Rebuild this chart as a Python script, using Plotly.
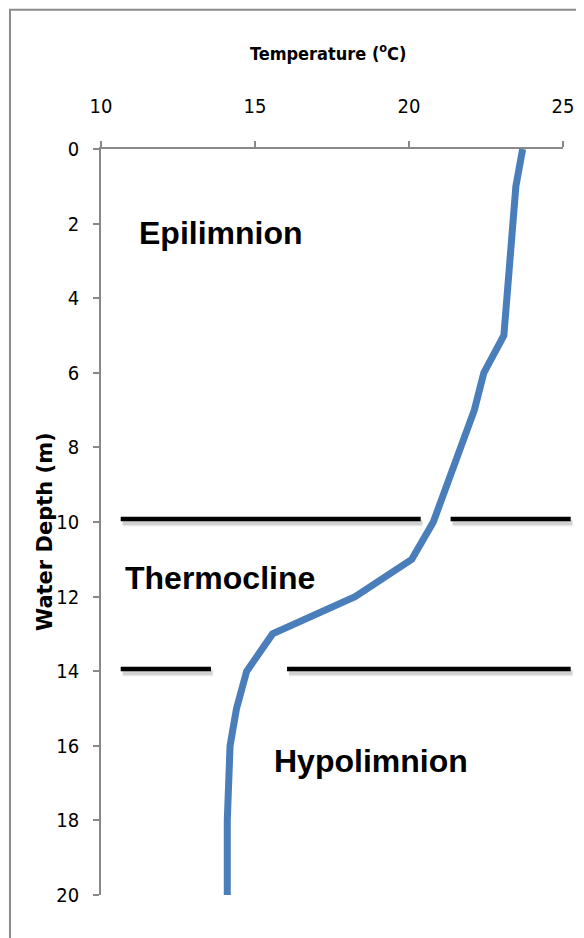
import plotly.graph_objects as go

# ---- data ----
depth_m = [0, 1, 5, 6, 7, 8, 9, 10, 11, 12, 13, 14, 15, 16, 18, 20]
temperature_c = [23.69, 23.47, 23.08, 22.43, 22.12, 21.66, 21.22, 20.79, 20.09,
                 18.25, 15.57, 14.73, 14.40, 14.19, 14.10, 14.10]

x_ticks = [10, 15, 20, 25]
y_ticks = [0, 2, 4, 6, 8, 10, 12, 14, 16, 18, 20]

# layer boundary lines (depth, list of [t_start, t_end] segments in deg C)
boundary_depths = [9.92, 13.94]
boundary_segments = [
    [[10.64, 20.38], [21.35, 25.25]],
    [[10.64, 13.57], [16.04, 25.25]],
]

layer_names = ["Epilimnion", "Thermocline", "Hypolimnion"]
layer_label_x = [13.9, 13.86, 18.78]
layer_label_y = [2.25, 11.5, 16.4]

X_MIN, X_MAX = 10, 25
Y_MIN, Y_MAX = 0, 20

TICK_FONT = "Liberation Sans Narrow, Arial Narrow, DejaVu Sans Condensed, sans-serif"


def to_paper_x(t):
    return (t - X_MIN) / (X_MAX - X_MIN)


fig = go.Figure()
fig.add_trace(go.Scatter(
    x=temperature_c, y=depth_m, mode="lines",
    line=dict(color="#4A7EBB", width=7),
    showlegend=False, hoverinfo="skip",
))

shapes = []
# outer chart border
shapes.append(dict(type="rect", xref="paper", yref="paper",
                   x0=-0.197, x1=1.10, y0=-0.10, y1=1.1866,
                   line=dict(color="#8C8C8C", width=2), fillcolor="rgba(0,0,0,0)",
                   layer="below"))
for d, segs in zip(boundary_depths, boundary_segments):
    for t0, t1 in segs:
        # soft shadow
        for off, w, a in [(0.11, 7, 0.06), (0.10, 5, 0.12)]:
            shapes.append(dict(type="line", xref="paper", yref="y",
                               x0=to_paper_x(t0) + 0.004, x1=to_paper_x(t1) + 0.004,
                               y0=d + off, y1=d + off,
                               line=dict(color=f"rgba(0,0,0,{a})", width=w)))
        shapes.append(dict(type="line", xref="paper", yref="y",
                           x0=to_paper_x(t0), x1=to_paper_x(t1), y0=d, y1=d,
                           line=dict(color="#000000", width=4.5)))

annotations = []
for name, lx, ly in zip(layer_names, layer_label_x, layer_label_y):
    annotations.append(dict(text=f"<b>{name}</b>", x=lx, y=ly, xref="x", yref="y",
                            showarrow=False, xanchor="center", yanchor="middle",
                            font=dict(family="Liberation Sans, Arial, sans-serif",
                                      size=32, color="#000000")))
annotations.append(dict(text="<b>Temperature (<sup>o</sup>C)</b>", x=0.4924, y=1.130,
                        xref="paper", yref="paper", showarrow=False,
                        xanchor="center", yanchor="middle",
                        font=dict(family=TICK_FONT, size=18, color="#000000")))
annotations.append(dict(text="<b>Water Depth (m)</b>", x=-0.1212, y=0.4866,
                        xref="paper", yref="paper", showarrow=False, textangle=-90,
                        xanchor="center", yanchor="middle",
                        font=dict(family="DejaVu Sans, sans-serif", size=21,
                                  color="#000000")))

# the page adds an 8px body margin, so the figure is sized 8px smaller
fig.update_layout(
    width=576, height=930,
    margin=dict(l=93, r=21, t=141, b=43, autoexpand=False),
    paper_bgcolor="white", plot_bgcolor="white",
    shapes=shapes, annotations=annotations,
    xaxis=dict(side="top", range=[X_MIN, X_MAX], tickvals=x_ticks,
               showgrid=False, zeroline=False, showline=True,
               linecolor="#888888", linewidth=1.5,
               ticks="outside", ticklen=6, tickwidth=1.5, tickcolor="#888888",
               ticklabelstandoff=20,
               tickfont=dict(family=TICK_FONT, size=20, color="#000000")),
    yaxis=dict(range=[Y_MAX, Y_MIN], tickvals=y_ticks,
               showgrid=False, zeroline=False, showline=True,
               linecolor="#888888", linewidth=1.5,
               ticks="outside", ticklen=6, tickwidth=1.5, tickcolor="#888888",
               ticklabelstandoff=10,
               tickfont=dict(family=TICK_FONT, size=20, color="#000000")),
)

fig.write_html("out.html")
